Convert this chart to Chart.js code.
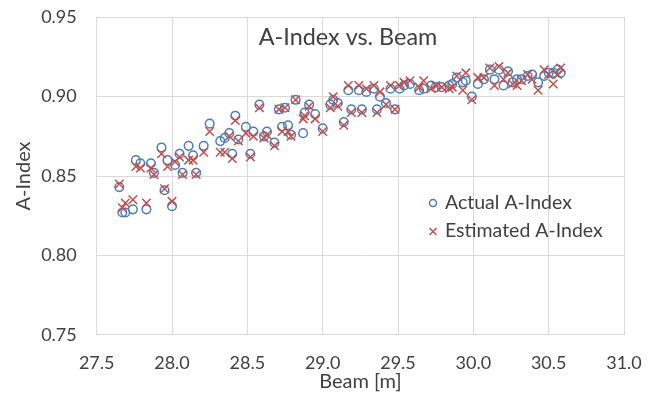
<!DOCTYPE html>
<html>
<head>
<meta charset="utf-8">
<script src="https://cdn.jsdelivr.net/npm/chart.js@4"></script>
<style>
  html, body { margin: 0; padding: 0; background: #fff; }
  canvas { display: block; }
</style>
</head>
<body>
<canvas id="myChart" width="667" height="394"></canvas>
<script>
const beam = [27.65,27.67,27.69,27.74,27.76,27.79,27.83,27.86,27.88,27.93,
  27.95,27.97,28.00,28.02,28.05,28.07,28.11,28.14,28.16,28.21,
  28.25,28.32,28.35,28.38,28.40,28.42,28.44,28.49,28.52,28.54,
  28.58,28.61,28.63,28.68,28.71,28.73,28.75,28.77,28.79,28.82,
  28.87,28.88,28.91,28.95,29.00,29.05,29.07,29.10,29.14,29.17,
  29.19,29.24,29.26,29.29,29.34,29.36,29.38,29.42,29.45,29.48,
  29.51,29.54,29.58,29.64,29.67,29.72,29.75,29.79,29.84,29.86,
  29.89,29.93,29.95,29.99,30.03,30.07,30.11,30.14,30.17,30.20,
  30.23,30.26,30.29,30.32,30.36,30.39,30.43,30.47,30.50,30.53,
  30.56,30.58];

const actualIndex = [0.843,0.827,0.827,0.829,0.860,0.858,0.829,0.858,0.852,0.868,
  0.841,0.860,0.831,0.857,0.864,0.852,0.869,0.863,0.852,0.869,
  0.883,0.872,0.874,0.877,0.864,0.888,0.873,0.881,0.864,0.878,
  0.895,0.875,0.878,0.871,0.892,0.881,0.893,0.882,0.876,0.898,
  0.877,0.890,0.895,0.889,0.880,0.895,0.898,0.896,0.884,0.904,
  0.892,0.904,0.892,0.903,0.905,0.892,0.900,0.896,0.905,0.892,
  0.905,0.907,0.908,0.904,0.905,0.907,0.906,0.906,0.907,0.908,
  0.912,0.909,0.910,0.900,0.908,0.911,0.917,0.911,0.917,0.907,
  0.916,0.909,0.911,0.911,0.913,0.914,0.909,0.913,0.915,0.915,
  0.917,0.915];

const estimatedIndex = [0.845,0.830,0.833,0.835,0.856,0.855,0.833,0.855,0.851,0.864,
  0.842,0.856,0.834,0.859,0.862,0.851,0.860,0.860,0.851,0.865,
  0.878,0.865,0.865,0.875,0.861,0.885,0.872,0.877,0.862,0.875,
  0.893,0.874,0.876,0.869,0.892,0.878,0.893,0.878,0.875,0.898,
  0.886,0.888,0.894,0.886,0.878,0.893,0.900,0.894,0.882,0.907,
  0.890,0.907,0.890,0.905,0.907,0.890,0.903,0.895,0.907,0.892,
  0.907,0.909,0.910,0.906,0.910,0.905,0.907,0.906,0.905,0.906,
  0.913,0.904,0.915,0.898,0.912,0.912,0.918,0.907,0.919,0.911,
  0.915,0.908,0.907,0.910,0.914,0.911,0.904,0.917,0.914,0.908,
  0.914,0.918];

const seriesNames = ["Actual A-Index", "Estimated A-Index"];
const chartTitle = "A-Index vs. Beam";
const xTitle = "Beam [m]";
const yTitle = "A-Index";

const BLUE = "#4a7ebb";
const RED = "#c0504d";
const TEXT = "#404040";
const GRID = "#d9d9d9";
const FONT = "Lato, 'Open Sans', sans-serif";

const toPoints = (ys) => beam.map((x, i) => ({ x: x, y: ys[i] }));

// title and legend sit inside the plot area, so draw them by hand
const insidePlugin = {
  id: "inside",
  afterDraw(chart) {
    const ctx = chart.ctx;
    ctx.save();
    ctx.fillStyle = TEXT;
    ctx.font = "23.4px " + FONT;
    ctx.textAlign = "center";
    ctx.textBaseline = "middle";
    ctx.fillText(chartTitle, 348, 37);

    ctx.font = "19.5px " + FONT;
    ctx.textAlign = "left";
    ctx.fillText(seriesNames[0], 445, 203);
    ctx.fillText(seriesNames[1], 445, 231);

    ctx.lineWidth = 1.5;
    ctx.strokeStyle = BLUE;
    ctx.beginPath();
    ctx.arc(433, 203, 3.5, 0, Math.PI * 2);
    ctx.stroke();

    ctx.strokeStyle = RED;
    ctx.beginPath();
    ctx.moveTo(429.5, 228);
    ctx.lineTo(436.5, 235);
    ctx.moveTo(436.5, 228);
    ctx.lineTo(429.5, 235);
    ctx.stroke();
    ctx.restore();
  }
};

const ctx = document.getElementById("myChart").getContext("2d");
const myChart = new Chart(ctx, {
  type: "scatter",
  data: {
    datasets: [
      {
        label: seriesNames[0],
        data: toPoints(actualIndex),
        pointStyle: "circle",
        pointRadius: 4.3,
        borderColor: BLUE,
        backgroundColor: "rgba(0,0,0,0)",
        borderWidth: 1.5,
        order: 2
      },
      {
        label: seriesNames[1],
        data: toPoints(estimatedIndex),
        pointStyle: "crossRot",
        pointRadius: 6,
        borderColor: RED,
        backgroundColor: RED,
        borderWidth: 1.5,
        order: 1
      }
    ]
  },
  options: {
    responsive: false,
    animation: false,
    events: [],
    layout: { padding: { top: 17.3, right: 43, left: 0, bottom: 0 } },
    plugins: {
      legend: { display: false },
      title: { display: false },
      tooltip: { enabled: false }
    },
    scales: {
      x: {
        type: "linear",
        min: 27.5,
        max: 31.0,
        grid: { color: GRID, lineWidth: 1, drawTicks: false },
        border: { color: GRID },
        ticks: {
          stepSize: 0.5,
          padding: 18,
          color: TEXT,
          font: { family: FONT, size: 18 },
          callback: (v) => v.toFixed(1)
        },
        title: {
          display: true,
          text: xTitle,
          color: TEXT,
          font: { family: FONT, size: 20 },
          padding: { top: 0, bottom: 0 }
        },
        afterFit: (scale) => {
          scale.height = 59.3;
          scale.paddingLeft = 0;
          scale.paddingRight = 0;
        }
      },
      y: {
        type: "linear",
        min: 0.75,
        max: 0.95,
        grid: { color: GRID, lineWidth: 1, drawTicks: false },
        border: { color: GRID },
        ticks: {
          stepSize: 0.05,
          padding: 20,
          color: TEXT,
          font: { family: FONT, size: 18 },
          callback: (v) => v.toFixed(2)
        },
        title: {
          display: true,
          text: yTitle,
          color: TEXT,
          font: { family: FONT, size: 20 },
          padding: { top: 12, bottom: 0 }
        },
        afterFit: (scale) => {
          scale.width = 96.7;
          scale.paddingTop = 0;
          scale.paddingBottom = 0;
        }
      }
    }
  },
  plugins: [insidePlugin]
});
</script>
</body>
</html>
